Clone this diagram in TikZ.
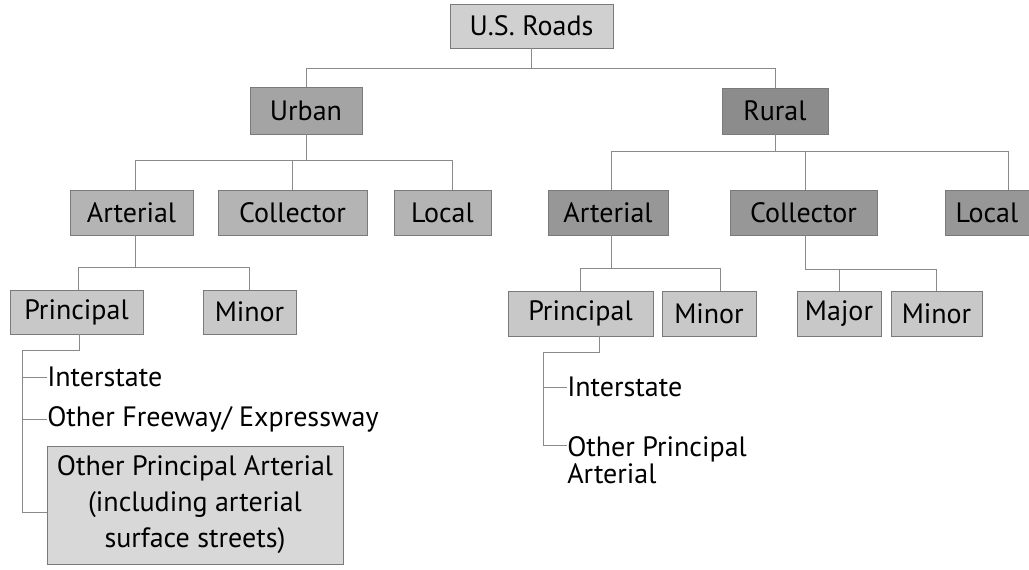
\documentclass[tikz,border=0pt]{standalone}
\usepackage{fontspec}
\setmainfont{PT Sans}
\usetikzlibrary{calc}
\definecolor{cRoot}{HTML}{D0D0D0}
\definecolor{cUrban}{HTML}{A4A4A4}
\definecolor{cRural}{HTML}{8C8C8C}
\definecolor{cUrow}{HTML}{B4B4B4}
\definecolor{cRrow}{HTML}{979797}
\definecolor{cLeaf}{HTML}{C8C8C8}
\definecolor{cNote}{HTML}{D8D8D8}
\definecolor{boxline}{HTML}{7A7A7A}
\definecolor{connline}{HTML}{8A8A8A}
\begin{document}
\begin{tikzpicture}[x=0.75pt,y=-0.75pt,
  box/.style={draw=boxline, line width=0.6pt, inner sep=0pt,
    font=\fontsize{21}{24}\selectfont, text=black},
  conn/.style={draw=connline, line width=0.7pt},
  lbl/.style={inner sep=0pt, anchor=west, font=\fontsize{21}{24}\selectfont}]
\useasboundingbox (0,0) rectangle (1029,569);
% level 0
\node[box, fill=cRoot, minimum width={163*0.75pt}, minimum height={44*0.75pt}] (root) at (531.5,26) {U.S. Roads};
% level 1
\node[box, fill=cUrban, minimum width={112*0.75pt}, minimum height={47*0.75pt}] (urban) at (306,110.5) {Urban};
\node[box, fill=cRural, minimum width={106*0.75pt}, minimum height={46*0.75pt}] (rural) at (775,111) {Rural};
% level 2
\node[box, fill=cUrow, minimum width={123*0.75pt}, minimum height={45*0.75pt}] (uart) at (131.5,212.5) {Arterial};
\node[box, fill=cUrow, minimum width={149*0.75pt}, minimum height={45*0.75pt}] (ucol) at (292.5,212.5) {Collector};
\node[box, fill=cUrow, minimum width={97*0.75pt}, minimum height={45*0.75pt}] (uloc) at (442.5,212.5) {Local};
\node[box, fill=cRrow, minimum width={120*0.75pt}, minimum height={45*0.75pt}] (rart) at (608,212.5) {Arterial};
\node[box, fill=cRrow, minimum width={147*0.75pt}, minimum height={45*0.75pt}] (rcol) at (803.5,212.5) {Collector};
\node[box, fill=cRrow, minimum width={84*0.75pt}, minimum height={45*0.75pt}] (rloc) at (987,212.5) {Local};
% level 3
\node[box, fill=cLeaf, minimum width={133*0.75pt}, minimum height={44*0.75pt}] (uprin) at (76.5,312) {Principal};
\node[box, fill=cLeaf, minimum width={93*0.75pt}, minimum height={44*0.75pt}] (umin) at (249.5,312) {Minor};
\node[box, fill=cLeaf, minimum width={145*0.75pt}, minimum height={45*0.75pt}] (rprin) at (580.5,313.5) {Principal};
\node[box, fill=cLeaf, minimum width={94*0.75pt}, minimum height={45*0.75pt}] (rmin) at (709,313.5) {Minor};
\node[box, fill=cLeaf, minimum width={84*0.75pt}, minimum height={45*0.75pt}] (rmaj) at (839,313.5) {Major};
\node[box, fill=cLeaf, minimum width={91*0.75pt}, minimum height={45*0.75pt}] (rmin2) at (936.5,313.5) {Minor};
% level 4 (urban principal)
\node[lbl] (uint) at (47,377) {Interstate};
\node[lbl] (ufw) at (47,419) {Other Freeway/ Expressway};
\node[box, fill=cNote, align=center, minimum width={296*0.75pt}, minimum height={118*0.75pt},
  font=\fontsize{21}{27}\selectfont] (opa) at (195,505) {Other Principal Arterial\\(including arterial\\surface streets)};
% level 4 (rural principal)
\node[lbl] (rint) at (567,387) {Interstate};
\node[lbl, anchor=north west, align=left, font=\fontsize{21}{16.5}\selectfont] (ropa) at (567,436) {Other Principal\\Arterial};
% connectors
\draw[conn] (root.south) -- ++(0,20) coordinate (b0);
\draw[conn] (urban.north) |- (b0) -| (rural.north);
\draw[conn] (urban.south) -- ++(0,26) coordinate (b1);
\draw[conn] ($(uart.north)+(3.5,0)$) |- (b1) -| ($(uloc.north)+(9.5,0)$);
\draw[conn] (b1) -| (ucol.north);
\draw[conn] (rural.south) -- ++(0,17) coordinate (b2);
\draw[conn] ($(rart.north)+(3,0)$) |- (b2) -| ($(rloc.north)+(21,0)$);
\draw[conn] (b2) -| ($(rcol.north)+(1.5,0)$);
\draw[conn] ($(uart.south)+(3.5,0)$) -- ++(0,32) coordinate (b3);
\draw[conn] ($(uprin.north)+(1.5,0)$) |- (b3) -| (umin.north);
\draw[conn] ($(rart.south)+(3,0)$) -- ++(0,33) coordinate (b4);
\draw[conn] (rprin.north) |- (b4) -| ($(rmin.north)+(11,0)$);
\draw[conn] ($(rcol.south)+(1.5,0)$) -- ++(0,34) coordinate (b5);
\draw[conn] (rmaj.north) |- (b5) -| (rmin2.north);
% principal lists
\coordinate (ut) at ($(uprin.south)+(-54.5,16)$);
\draw[conn] ($(uprin.south)+(2.5,0)$) |- (ut) |- ($(opa.west)+(0,7)$);
\draw[conn] (uint.west) -- (uint.west -| ut);
\draw[conn] (ufw.west) -- (ufw.west -| ut);
\coordinate (rt) at ($(rprin.south)+(-37.5,16)$);
\draw[conn] ($(rprin.south)+(18.5,0)$) |- (rt) |- ($(ropa.north west)+(0,9)$);
\draw[conn] (rint.west) -- (rint.west -| rt);
\end{tikzpicture}
\end{document}
